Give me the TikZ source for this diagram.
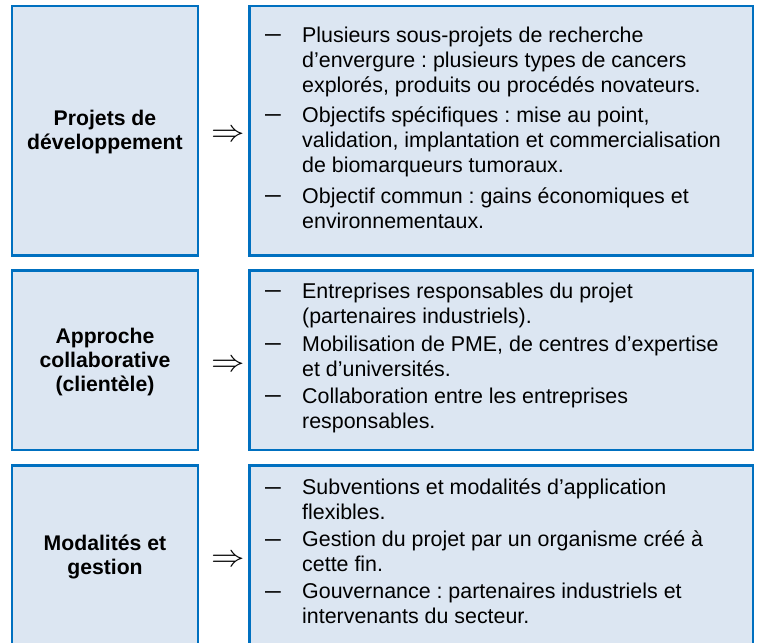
\documentclass[tikz,border=0pt]{standalone}
\usepackage{fontspec}
\usepackage{graphicx}
\setmainfont{Liberation Sans}
\frenchspacing
\definecolor{boxfill}{HTML}{DCE6F2}
\definecolor{boxline}{HTML}{0070C0}
\newcommand\bodyfont{\fontsize{21.4bp}{25bp}\selectfont}
\newcommand\labfont{\fontsize{21.2bp}{24bp}\selectfont\bfseries}
\tikzset{
  panel/.style={draw=boxline, fill=boxfill, line width=2.6bp, inner sep=0pt},
  lbl/.style={anchor=north, inner sep=0pt, align=center, font=\labfont},
  itm/.style={anchor=north west, inner sep=0pt, align=left, font=\bodyfont},
  dsh/.style={anchor=base west, inner sep=0pt, font=\fontsize{15bp}{15bp}\selectfont},
  imp/.style={inner sep=0pt, font=\fontsize{10pt}{10pt}\selectfont}
}
\newcommand\dashmark{\raisebox{0.5bp}{\scalebox{1.05}[1.6]{—}}}
\newcommand\implies{\scalebox{3.35}[3.1]{$\Rightarrow$}}
\begin{document}
\begin{tikzpicture}[x=1bp, y=-1bp]
\useasboundingbox (0,0) rectangle (757,643);
\clip (0,0) rectangle (757,643);
% panels
\node[panel, minimum width=185.6bp, minimum height=249.3bp] (L1) at (105,130.85) {};
\node[panel, minimum width=503.5bp, minimum height=249.3bp] (R1) at (501.25,130.85) {};
\node[panel, minimum width=185.6bp, minimum height=179.7bp] (L2) at (105,360.15) {};
\node[panel, minimum width=503.5bp, minimum height=179.7bp] (R2) at (501.25,360.15) {};
\node[panel, minimum width=185.6bp, minimum height=179.7bp] (L3) at (105,555.35) {};
\node[panel, minimum width=503.5bp, minimum height=179.7bp] (R3) at (501.25,555.35) {};
% labels
\node[lbl] (t1) at (105,108.2) {\strut Projets de\\développement};
\node[lbl] (t2) at (105,326.2) {\strut Approche\\collaborative\\(clientèle)};
\node[lbl] (t3) at (105,533.2) {\strut Modalités et\\gestion};
% implication arrows
\node[imp] (a1) at (228,135.5) {\implies};
\node[imp] (a2) at (228,366) {\implies};
\node[imp] (a3) at (228,561) {\implies};
% row 1 items
\node[dsh] (d11) at (265,42) {\dashmark};
\node[itm] (i11) at (302,24.5) {\strut Plusieurs sous-projets de recherche\\d’envergure : plusieurs types de cancers\\explorés, produits ou procédés novateurs.};
\node[dsh] (d12) at (265,122.5) {\dashmark};
\node[itm] (i12) at (302,105) {\strut Objectifs spécifiques : mise au point,\\validation, implantation et commercialisation\\de biomarqueurs tumoraux.};
\node[dsh] (d13) at (265,203) {\dashmark};
\node[itm] (i13) at (302,185.5) {\strut Objectif commun : gains économiques et\\environnementaux.};
% row 2 items
\node[dsh] (d21) at (265,298.3) {\dashmark};
\node[itm] (i21) at (302,280.8) {\strut Entreprises responsables du projet\\(partenaires industriels).};
\node[dsh] (d22) at (265,350.8) {\dashmark};
\node[itm] (i22) at (302,333.3) {\strut Mobilisation de PME, de centres d’expertise\\et d’universités.};
\node[dsh] (d23) at (265,403.3) {\dashmark};
\node[itm] (i23) at (302,385.8) {\strut Collaboration entre les entreprises\\responsables.};
% row 3 items
\node[dsh] (d31) at (265,494.5) {\dashmark};
\node[itm] (i31) at (302,477) {\strut Subventions et modalités d’application\\flexibles.};
\node[dsh] (d32) at (265,546.5) {\dashmark};
\node[itm] (i32) at (302,529) {\strut Gestion du projet par un organisme créé à\\cette fin.};
\node[dsh] (d33) at (265,598.5) {\dashmark};
\node[itm] (i33) at (302,581) {\strut Gouvernance : partenaires industriels et\\intervenants du secteur.};
\end{tikzpicture}
\end{document}
